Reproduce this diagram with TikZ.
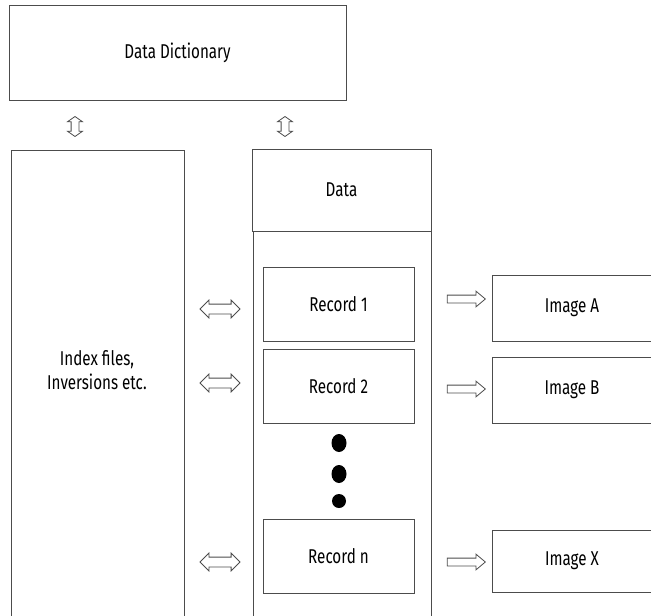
\documentclass[tikz,border=0pt]{standalone}
\usepackage{fontspec}
\setmainfont{Fira Sans}[FakeStretch=0.76]
\usepackage{tikz}
\usetikzlibrary{shapes.arrows,positioning,calc}

\tikzset{
  box/.style={draw=black!70, line width=1pt, rectangle, inner sep=0pt, fill=white,
    font=\fontsize{20}{24}\selectfont, align=center},
  txt/.style={inner sep=0pt, font=\fontsize{20}{24}\selectfont, align=center},
  recbox/.style={box, minimum width=151, minimum height=74},
  imgbox/.style={box, minimum width=160},
  hdbl/.style={draw=black!70, line width=0.8pt, double arrow, inner sep=4.5pt,
    double arrow head extend=4pt, minimum height=40},
  vdbl/.style={hdbl, rotate=90, inner sep=3.5pt, double arrow head extend=3.5pt,
    double arrow tip angle=110, minimum height=20},
  rarr/.style={draw=black!70, line width=0.8pt, single arrow, inner sep=3.5pt,
    single arrow head extend=4pt, single arrow tip angle=80, minimum height=38},
}

\begin{document}
\begin{tikzpicture}[x=1pt,y=-1pt]
    \path[use as bounding box, clip] (0,0) rectangle (651,616);

    % Data dictionary
    \node[box, minimum width=337, minimum height=95] (dict) at (177.5,52.5) {Data Dictionary};

    % Index files
    \node[box, minimum width=173, minimum height=500] (index) at (97.5,400) {};
    \node[txt] (indextxt) at (97,370) {Index files,\\Inversions etc.};

    % Data column
    \node[box, minimum width=178, minimum height=500] (column) at (342,399) {};
    \node[box, minimum width=179, minimum height=82] (data) at (341.5,190) {Data};

    % Records
    \node[recbox] (rec1) at (338.5,304) {Record 1};
    \node[recbox] (rec2) at (338.5,386) {Record 2};
    \node[recbox] (recn) at (338.5,556) {Record n};

    % Dots
    \fill (339,443) ellipse [x radius=7.5pt, y radius=9pt];
    \fill (339,474) ellipse [x radius=7.5pt, y radius=9pt];
    \fill (339,501) ellipse [x radius=7pt, y radius=7pt];

    % Images
    \node[imgbox, minimum height=66] (imgA) at (572,308) {Image A};
    \node[imgbox, minimum height=66] (imgB) at (572,390) {Image B};
    \node[imgbox, minimum height=62] (imgX) at (572,561) {Image X};

    % Arrows
    \node[vdbl] (vleft) at (75,126.5) {};
    \node[vdbl] (vright) at (285,126.5) {};
    \foreach \r/\y in {1/309, 2/383, n/562}
        \node[hdbl] (link\r) at (220,\y) {};
    \foreach \r/\y in {A/299, B/389, X/562}
        \node[rarr] (to\r) at (464,\y) {};
\end{tikzpicture}
\end{document}
